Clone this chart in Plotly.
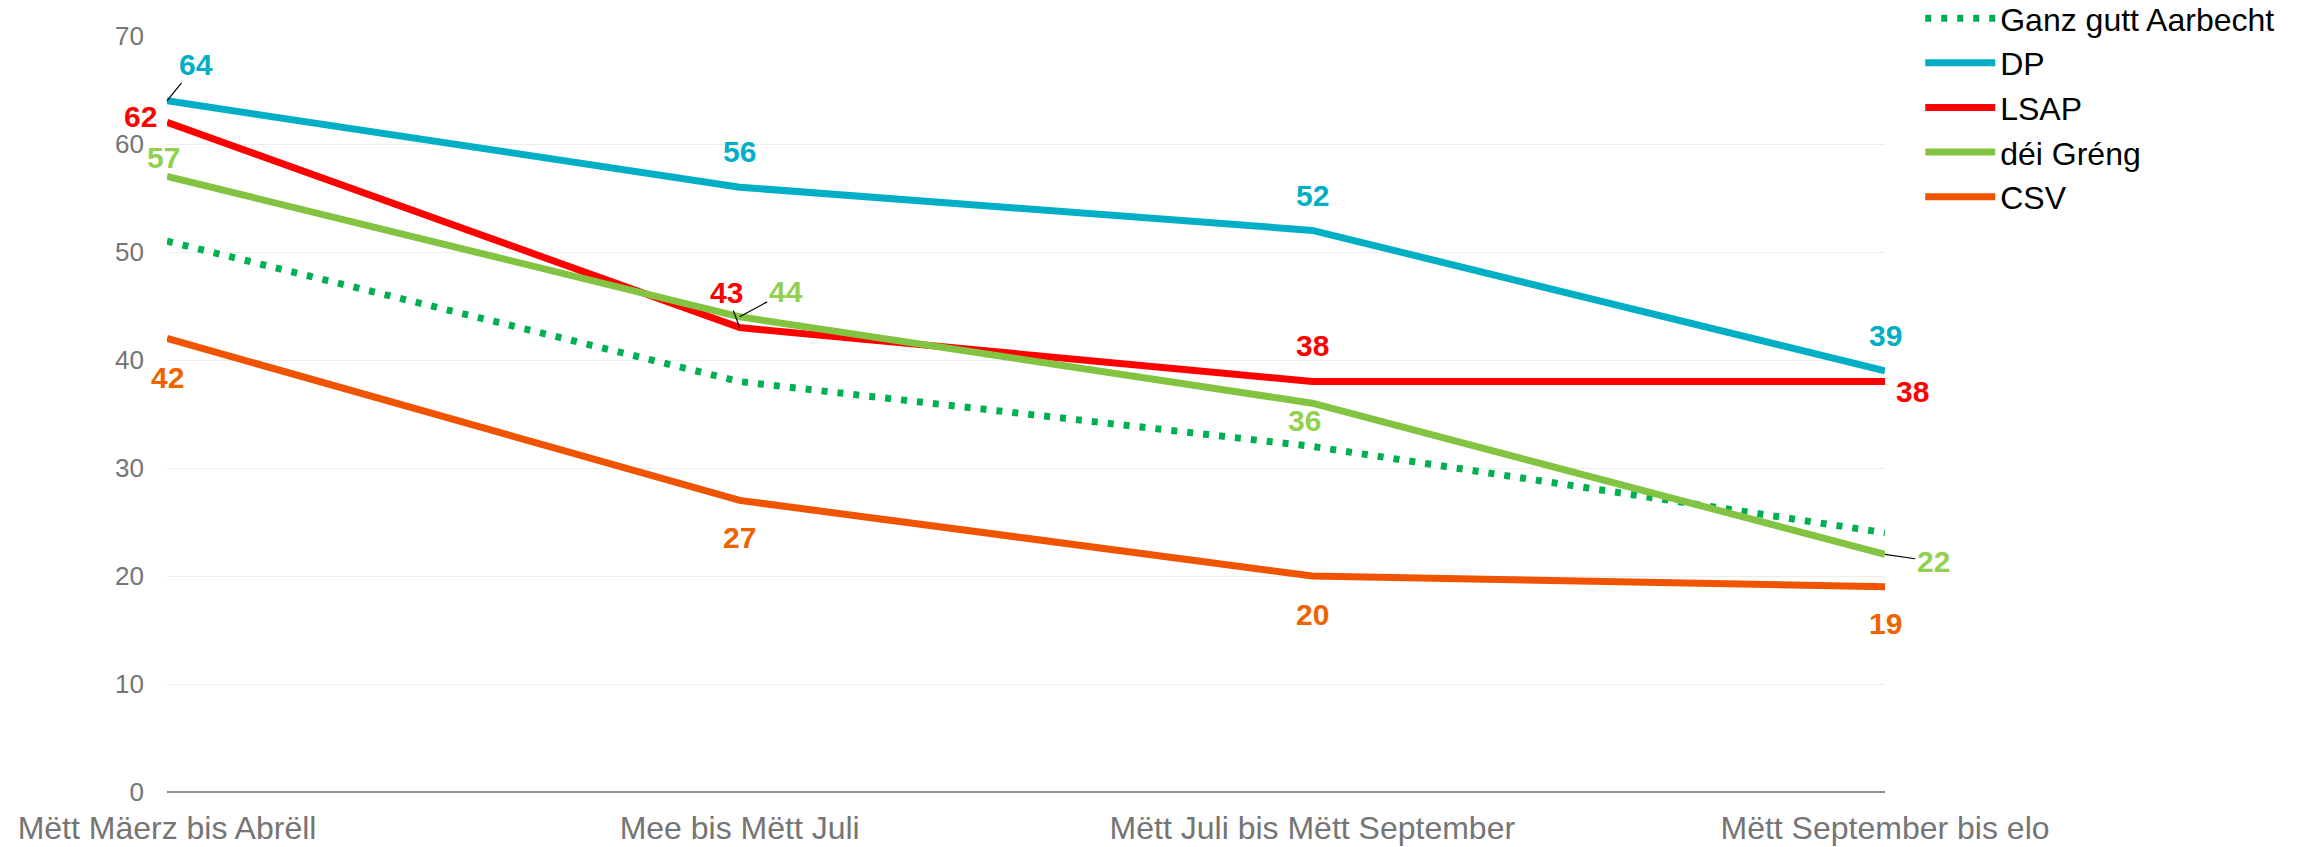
import plotly.graph_objects as go

categories = ["Mëtt Mäerz bis Abrëll", "Mee bis Mëtt Juli", "Mëtt Juli bis Mëtt September", "Mëtt September bis elo"]
ganz_gutt = [51, 38, 32, 24]
dp = [64, 56, 52, 39]
lsap = [62, 43, 38, 38]
greng = [57, 44, 36, 22]
csv = [42, 27, 20, 19]
y_ticks = [0, 10, 20, 30, 40, 50, 60, 70]

FONT = "Liberation Sans, Arial, sans-serif"
xs = list(range(len(categories)))

fig = go.Figure()
fig.add_trace(go.Scatter(x=xs, y=ganz_gutt, name="Ganz gutt Aarbecht", mode="lines",
                         line=dict(color="#00B050", width=7, dash="6px,10px")))
fig.add_trace(go.Scatter(x=xs, y=dp, name="DP", mode="lines", line=dict(color="#00AFC6", width=7)))
fig.add_trace(go.Scatter(x=xs, y=lsap, name="LSAP", mode="lines", line=dict(color="#FF0000", width=7)))
fig.add_trace(go.Scatter(x=xs, y=greng, name="déi Gréng", mode="lines", line=dict(color="#82C341", width=7)))
fig.add_trace(go.Scatter(x=xs, y=csv, name="CSV", mode="lines", line=dict(color="#F05400", width=7)))

label_colors = {"dp": "#00AFC6", "lsap": "#FF0000", "greng": "#92D050", "csv": "#F06400"}

def lab(i, vals, key, dx=0, dy=0, arrow=None):
    kw = dict(x=i, y=vals[i], xref="x", yref="y", text="<b>" + str(vals[i]) + "</b>",
              font=dict(family=FONT, size=30, color=label_colors[key]))
    if arrow:
        kw.update(showarrow=True, ax=arrow[0], ay=arrow[1], arrowhead=0,
                  arrowwidth=1.2, arrowcolor="#000000", standoff=0, startstandoff=0)
    else:
        kw.update(showarrow=False, xshift=dx, yshift=dy)
    fig.add_annotation(**kw)

# data labels
lab(0, dp, "dp", arrow=(29, -36))
lab(0, lsap, "lsap", -27, 6)
lab(0, greng, "greng", -4, 19)
lab(0, csv, "csv", 0, -39)
lab(1, dp, "dp", 0, 36)
lab(1, lsap, "lsap", arrow=(-13, -35))
lab(1, greng, "greng", arrow=(46, -25))
lab(1, csv, "csv", 0, -37)
lab(2, dp, "dp", 0, 35)
lab(2, lsap, "lsap", 0, 36)
lab(2, greng, "greng", -8, -17)
lab(2, csv, "csv", 0, -38)
lab(3, dp, "dp", 0, 35)
lab(3, lsap, "lsap", 27, -10)
lab(3, greng, "greng", arrow=(48, 7))
lab(3, csv, "csv", 0, -37)

fig.update_layout(
    width=2302, height=847,
    margin=dict(l=167, r=417, t=36, b=55, autoexpand=False),
    paper_bgcolor="white", plot_bgcolor="white",
    font=dict(family=FONT, size=26, color="#757575"),
    showlegend=True,
    legend=dict(x=1.0205, y=1.0596, xanchor="left", yanchor="top",
                font=dict(family=FONT, size=32, color="#000000"),
                itemwidth=70, tracegroupgap=0, bgcolor="rgba(0,0,0,0)"),
    xaxis=dict(range=[0, 3], tickvals=xs, ticktext=categories, showgrid=False,
               zeroline=False, showline=False, ticks="", ticklabelstandoff=14,
               tickfont=dict(family=FONT, size=32, color="#757575")),
    yaxis=dict(range=[0, 70], tickvals=y_ticks, showgrid=True, gridcolor="#EDEDED",
               gridwidth=1, zeroline=True, zerolinecolor="#8C8C8C", zerolinewidth=1.5,
               showline=False, ticks="", ticklabelstandoff=22,
               tickfont=dict(family=FONT, size=26, color="#757575")),
)

fig.write_html("out.html", config={"displayModeBar": False},
               post_script="document.body.style.margin='0';document.body.style.overflow='hidden';")
